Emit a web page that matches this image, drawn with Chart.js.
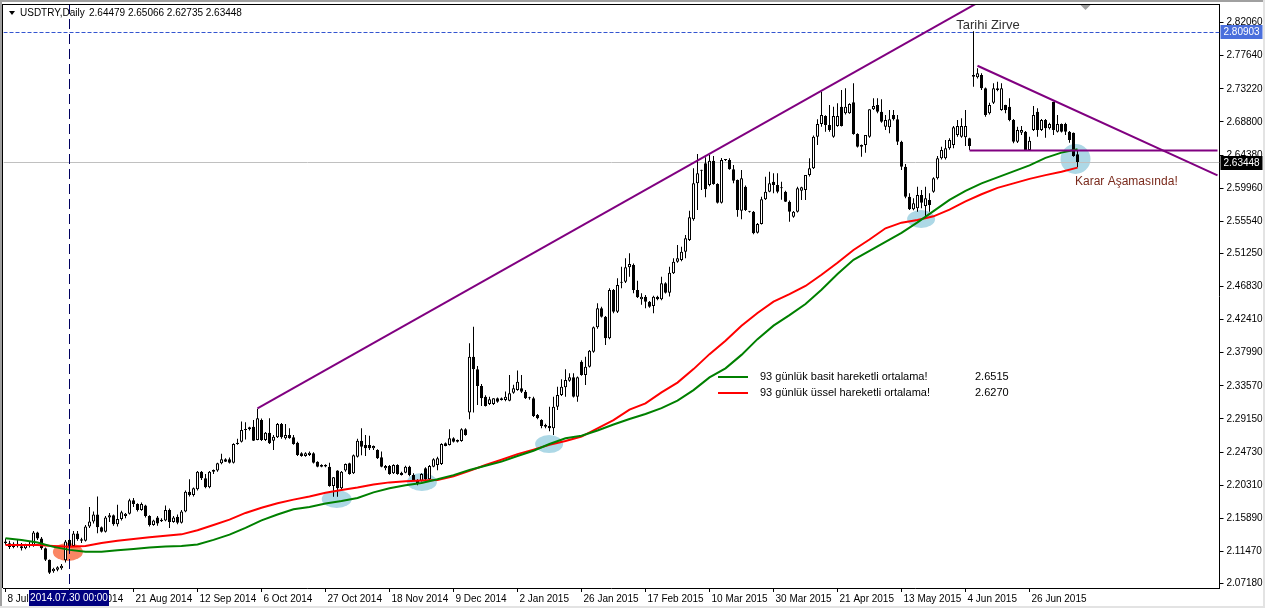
<!DOCTYPE html>
<html>
<head>
<meta charset="utf-8">
<script src="https://cdn.jsdelivr.net/npm/chart.js@4.4.1/dist/chart.umd.min.js"></script>
<style>
  html, body { margin: 0; padding: 0; background: #fff; }
  #wrap { width: 1265px; height: 608px; }
</style>
</head>
<body>
<div id="wrap"><canvas id="usdtry" width="1265" height="608"></canvas></div>
<script>
// USDTRY daily bars, 8 Jul 2014 .. 14 Jul 2015
const opens = [
  2.1280,2.1255,2.1205,2.1250,2.1215,2.1190,2.1235,2.1220,2.1400,2.1320,
  2.1190,2.1035,2.0880,2.0900,2.0920,2.1030,2.1300,2.1220,2.1385,2.1310,
  2.1290,2.1480,2.1545,2.1640,2.1470,2.1410,2.1600,2.1630,2.1510,2.1580,
  2.1620,2.1650,2.1830,2.1780,2.1700,2.1760,2.1620,2.1500,2.1600,2.1550,
  2.1560,2.1700,2.1540,2.1610,2.1530,2.1680,2.1944,2.1900,2.1975,2.2210,
  2.2122,2.2002,2.2211,2.2225,2.2322,2.2376,2.2376,2.2331,2.2580,2.2611,
  2.2767,2.2776,2.2812,2.2634,2.2901,2.2634,2.2732,2.2625,2.2669,2.2847,
  2.2656,2.2700,2.2669,2.2598,2.2456,2.2420,2.2433,2.2456,2.2344,2.2300,
  2.2300,2.2278,2.2020,2.2225,2.1988,2.2225,2.2322,2.2190,2.2411,2.2625,
  2.2567,2.2567,2.2522,2.2500,2.2402,2.2255,2.2287,2.2189,2.2300,2.2198,
  2.2198,2.2278,2.2167,2.2100,2.2091,2.2255,2.2109,2.2278,2.2300,2.2313,
  2.2589,2.2567,2.2656,2.2611,2.2620,2.2776,2.3000,2.3746,2.3577,2.3355,
  2.3212,2.3114,2.3114,2.3190,2.3190,2.3168,2.3159,2.3266,2.3301,2.3323,
  2.3279,2.3200,2.3190,2.2967,2.2901,2.2834,2.2821,2.2790,2.3079,2.3235,
  2.3337,2.3426,2.3470,2.3212,2.3680,2.3502,2.3613,2.3813,2.4138,2.4392,
  2.4280,2.3991,2.4636,2.4347,2.4734,2.4747,2.4939,2.4970,2.4636,2.4512,
  2.4547,2.4480,2.4423,2.4547,2.4512,2.4725,2.4601,2.4859,2.5014,2.5037,
  2.5148,2.5304,2.5580,2.6060,2.6238,2.6327,2.6038,2.6363,2.6051,2.5802,
  2.6372,2.6372,2.6247,2.6105,2.5695,2.6016,2.5682,2.5682,2.5402,2.5518,
  2.5847,2.5949,2.6082,2.6038,2.5994,2.5949,2.5816,2.5615,2.5682,2.5962,
  2.5971,2.6171,2.6260,2.6683,2.6852,2.6959,2.6839,2.6683,2.6826,2.7084,
  2.6995,2.6995,2.7142,2.6719,2.6572,2.6572,2.6683,2.7048,2.7106,2.7017,
  2.6817,2.6808,2.6972,2.6915,2.6616,2.6283,2.5882,2.5713,2.5726,2.5904,
  2.5758,2.5838,2.5949,2.6127,2.6394,2.6394,2.6528,2.6572,2.6705,2.6683,
  2.6674,2.6661,2.7506,2.7475,2.7506,2.7328,2.6995,2.7137,2.7328,2.7039,
  2.7106,2.7084,2.6906,2.6616,2.6737,2.6750,2.6505,2.6772,2.7017,2.6772,
  2.6906,2.6795,2.7150,2.6750,2.6852,2.6852,2.6750,2.6737,2.64479
];
const highs = [
  2.1320,2.1290,2.1270,2.1300,2.1260,2.1250,2.1280,2.1420,2.1410,2.1340,
  2.1200,2.1040,2.0930,2.0950,2.0980,2.1300,2.1330,2.1420,2.1420,2.1330,
  2.1500,2.1740,2.1680,2.1880,2.1480,2.1620,2.1660,2.1640,2.1770,2.1690,
  2.1660,2.1850,2.1860,2.1790,2.1800,2.1770,2.1630,2.1570,2.1620,2.1590,
  2.1760,2.1720,2.1620,2.1640,2.1700,2.1960,2.2110,2.2000,2.2220,2.2220,
  2.2180,2.2220,2.2240,2.2330,2.2450,2.2390,2.2400,2.2590,2.2650,2.2880,
  2.2870,2.2810,2.2900,2.3050,2.2920,2.2740,2.2923,2.2700,2.2860,2.2860,
  2.2847,2.2790,2.2700,2.2610,2.2470,2.2470,2.2480,2.2470,2.2350,2.2310,
  2.2310,2.2330,2.2140,2.2230,2.2220,2.2320,2.2330,2.2440,2.2650,2.2790,
  2.2700,2.2690,2.2560,2.2510,2.2480,2.2300,2.2300,2.2310,2.2310,2.2210,
  2.2290,2.2290,2.2190,2.2110,2.2190,2.2270,2.2300,2.2390,2.2410,2.2590,
  2.2600,2.2776,2.2670,2.2640,2.2790,2.2790,2.3925,2.4147,2.3620,2.3380,
  2.3230,2.3212,2.3190,2.3200,2.3200,2.3280,2.3500,2.3370,2.3560,2.3500,
  2.3300,2.3210,2.3212,2.2980,2.2910,2.2850,2.3079,2.3212,2.3346,2.3444,
  2.3577,2.3524,2.3524,2.3480,2.3700,2.3746,2.3835,2.4150,2.4458,2.4414,
  2.4290,2.4658,2.4650,2.4792,2.4948,2.5059,2.5126,2.4990,2.4761,2.4592,
  2.4570,2.4490,2.4560,2.4560,2.4814,2.4740,2.4948,2.5059,2.5237,2.5215,
  2.5370,2.5695,2.6260,2.6452,2.6240,2.6407,2.6438,2.6425,2.6060,2.6400,
  2.6380,2.6394,2.6305,2.6110,2.6238,2.6030,2.5690,2.5690,2.5530,2.5882,
  2.6149,2.6216,2.6194,2.6194,2.6082,2.5960,2.5830,2.5690,2.6016,2.6016,
  2.6171,2.6394,2.6700,2.6915,2.7284,2.6970,2.7106,2.7084,2.7128,2.7306,
  2.7329,2.7130,2.7395,2.6730,2.6580,2.6705,2.7050,2.7195,2.7195,2.7182,
  2.6972,2.7039,2.7039,2.6972,2.6630,2.6318,2.5927,2.5860,2.6016,2.5971,
  2.6016,2.5927,2.6140,2.6425,2.6550,2.6639,2.6661,2.6826,2.6906,2.6928,
  2.7039,2.6670,2.80903,2.7595,2.7529,2.7340,2.7137,2.7395,2.7417,2.7395,
  2.7110,2.7195,2.6920,2.6817,2.6826,2.6760,2.6683,2.7093,2.7061,2.6920,
  2.6920,2.6870,2.7150,2.6972,2.6860,2.6870,2.6760,2.6740,2.65066
];
const lows = [
  2.1235,2.1180,2.1190,2.1200,2.1160,2.1175,2.1200,2.1210,2.1300,2.1170,
  2.1020,2.0845,2.0860,2.0880,2.0900,2.1000,2.1180,2.1210,2.1290,2.1260,
  2.1280,2.1460,2.1520,2.1390,2.1400,2.1400,2.1540,2.1490,2.1480,2.1560,
  2.1590,2.1640,2.1740,2.1680,2.1690,2.1600,2.1480,2.1490,2.1490,2.1540,
  2.1550,2.1460,2.1530,2.1510,2.1520,2.1670,2.1880,2.1880,2.1960,2.2100,
  2.1990,2.1990,2.2180,2.2210,2.2310,2.2340,2.2320,2.2320,2.2570,2.2600,
  2.2640,2.2760,2.2620,2.2630,2.2620,2.2620,2.2580,2.2500,2.2660,2.2650,
  2.2640,2.2650,2.2570,2.2420,2.2410,2.2410,2.2420,2.2320,2.2270,2.2270,
  2.2270,2.2010,2.1877,2.1877,2.1980,2.2210,2.2170,2.2180,2.2400,2.2430,
  2.2420,2.2500,2.2500,2.2380,2.2270,2.2230,2.2170,2.2180,2.2170,2.2160,
  2.2190,2.2150,2.2090,2.2030,2.2080,2.2100,2.2100,2.2270,2.2230,2.2300,
  2.2550,2.2560,2.2600,2.2600,2.2610,2.2690,2.2910,2.3000,2.3100,2.3088,
  2.3080,2.3100,2.3100,2.3130,2.3160,2.3150,2.3150,2.3250,2.3290,2.3260,
  2.3180,2.3170,2.2940,2.2910,2.2790,2.2790,2.2750,2.2701,2.3034,2.3220,
  2.3212,2.3410,2.3200,2.3146,2.3490,2.3368,2.3600,2.3800,2.4120,2.4270,
  2.3902,2.3980,2.4325,2.4330,2.4660,2.4730,2.4814,2.4592,2.4530,2.4440,
  2.4392,2.4400,2.4325,2.4500,2.4500,2.4590,2.4550,2.4850,2.5000,2.5020,
  2.5059,2.5290,2.5560,2.5704,2.5971,2.5873,2.6020,2.6040,2.5790,2.5790,
  2.6360,2.6240,2.6060,2.5615,2.5580,2.5690,2.5670,2.5380,2.5390,2.5510,
  2.5838,2.5940,2.5927,2.5927,2.5840,2.5810,2.5549,2.5600,2.5670,2.5838,
  2.5838,2.6150,2.6250,2.6572,2.6817,2.6750,2.6750,2.6670,2.6817,2.6820,
  2.6980,2.6990,2.6710,2.6540,2.6416,2.6470,2.6670,2.7040,2.6995,2.6870,
  2.6772,2.6728,2.6900,2.6572,2.6238,2.5860,2.5704,2.5700,2.5682,2.5726,
  2.5593,2.5682,2.5936,2.6110,2.6380,2.6380,2.6510,2.6528,2.6683,2.6670,
  2.6558,2.6505,2.7351,2.7460,2.7306,2.6950,2.6980,2.7120,2.7290,2.7030,
  2.6995,2.6890,2.6594,2.6600,2.6705,2.6505,2.6495,2.6760,2.6683,2.6760,
  2.6670,2.6780,2.6705,2.6740,2.6740,2.6705,2.6603,2.6416,2.62735
];
const closes = [
  2.1255,2.1205,2.1250,2.1215,2.1190,2.1235,2.1220,2.1400,2.1320,2.1190,
  2.1035,2.0860,2.0915,2.0935,2.0955,2.1280,2.1210,2.1385,2.1310,2.1290,
  2.1480,2.1545,2.1640,2.1470,2.1410,2.1600,2.1630,2.1510,2.1580,2.1670,
  2.1650,2.1830,2.1780,2.1700,2.1780,2.1620,2.1500,2.1560,2.1520,2.1570,
  2.1700,2.1540,2.1600,2.1530,2.1680,2.1944,2.1900,2.1988,2.2210,2.2122,
  2.2002,2.2211,2.2233,2.2322,2.2376,2.2344,2.2331,2.2580,2.2598,2.2767,
  2.2776,2.2803,2.2625,2.2923,2.2634,2.2732,2.2589,2.2678,2.2847,2.2669,
  2.2700,2.2656,2.2580,2.2433,2.2420,2.2456,2.2465,2.2331,2.2278,2.2278,
  2.2280,2.2020,2.2135,2.1988,2.2211,2.2313,2.2180,2.2430,2.2625,2.2545,
  2.2522,2.2522,2.2553,2.2389,2.2278,2.2287,2.2180,2.2300,2.2180,2.2167,
  2.2278,2.2167,2.2100,2.2055,2.2180,2.2109,2.2287,2.2376,2.2389,2.2580,
  2.2553,2.2656,2.2611,2.2633,2.2776,2.2700,2.3746,2.3577,2.3355,2.3190,
  2.3088,2.3177,2.3190,2.3145,2.3168,2.3212,2.3257,2.3323,2.3412,2.3279,
  2.3190,2.3190,2.2954,2.2923,2.2821,2.2812,2.2790,2.3079,2.3235,2.3346,
  2.3435,2.3470,2.3212,2.3470,2.3502,2.3613,2.3826,2.4138,2.4392,2.4280,
  2.3991,2.4636,2.4347,2.4703,2.4747,2.4939,2.4983,2.4636,2.4538,2.4547,
  2.4480,2.4412,2.4547,2.4512,2.4725,2.4601,2.4868,2.5014,2.5059,2.5148,
  2.5326,2.5606,2.6060,2.6194,2.6229,2.5980,2.6363,2.6051,2.5802,2.6372,
  2.6372,2.6247,2.6096,2.5704,2.6127,2.5704,2.5682,2.5393,2.5518,2.5847,
  2.5949,2.6060,2.6038,2.5949,2.5994,2.5816,2.5682,2.5682,2.5994,2.6007,
  2.6171,2.6260,2.6683,2.6852,2.6972,2.6839,2.6772,2.6959,2.6959,2.6826,
  2.7084,2.7119,2.6719,2.6550,2.6550,2.6705,2.7048,2.7093,2.7017,2.6883,
  2.6906,2.6915,2.6915,2.6616,2.6283,2.5882,2.5713,2.5793,2.5904,2.5802,
  2.5860,2.5771,2.6127,2.6394,2.6505,2.6528,2.6639,2.6808,2.6826,2.6826,
  2.6826,2.6558,2.7484,2.7529,2.7328,2.6972,2.7106,2.7328,2.7306,2.7328,
  2.7039,2.6906,2.6616,2.6772,2.6772,2.6505,2.6630,2.6972,2.6772,2.6906,
  2.6795,2.6852,2.6772,2.6852,2.6750,2.6750,2.6639,2.6425,2.63448
];

// 93-period moving averages, read every 4th bar
const maBars = [
  0,4,8,12,16,20,24,28,32,36,40,44,48,52,56,60,64,68,72,76,80,84,88,92,96,100,
  104,108,112,116,120,124,128,132,136,140,144,148,152,156,160,164,168,172,176,180,
  184,188,192,196,200,204,208,212,216,220,224,228,232,236,240,244,248,252,256,260,264,268
];
const smaValues = [
  2.1321,2.1298,2.1265,2.1207,2.1167,2.1143,2.1143,2.1162,2.1180,2.1198,
  2.1212,2.1220,2.1240,2.1300,2.1370,2.1460,2.1560,2.1640,2.1708,2.1740,
  2.1785,2.1820,2.1860,2.1935,2.1990,2.2030,2.2060,2.2109,2.2165,2.2233,
  2.2290,2.2345,2.2420,2.2490,2.2580,2.2656,2.2690,2.2760,2.2840,2.2915,
  2.2981,2.3060,2.3160,2.3300,2.3470,2.3590,2.3770,2.3980,2.4160,2.4300,
  2.4450,2.4640,2.4850,2.5040,2.5160,2.5280,2.5400,2.5540,2.5690,2.5840,
  2.5960,2.6060,2.6140,2.6220,2.6300,2.6400,2.6470,2.6515
];
const emaValues = [
  2.1232,2.1232,2.1232,2.1220,2.1210,2.1220,2.1260,2.1288,2.1312,2.1335,
  2.1355,2.1374,2.1430,2.1500,2.1570,2.1660,2.1730,2.1790,2.1838,2.1880,
  2.1930,2.1966,2.2000,2.2040,2.2068,2.2082,2.2092,2.2100,2.2150,2.2222,
  2.2300,2.2370,2.2445,2.2505,2.2570,2.2620,2.2680,2.2790,2.2900,2.3040,
  2.3123,2.3270,2.3400,2.3580,2.3780,2.3960,2.4160,2.4330,2.4480,2.4580,
  2.4690,2.4840,2.5000,2.5170,2.5310,2.5460,2.5535,2.5570,2.5620,2.5710,
  2.5820,2.5915,2.6000,2.6060,2.6120,2.6170,2.6215,2.6270
];

// time axis labels, one every 16 bars
const xTickLabels = [
  '8 Jul 2014','30 Jul 2014','21 Aug 2014','12 Sep 2014','6 Oct 2014','27 Oct 2014',
  '18 Nov 2014','9 Dec 2014','2 Jan 2015','26 Jan 2015','17 Feb 2015','10 Mar 2015',
  '30 Mar 2015','21 Apr 2015','13 May 2015','4 Jun 2015','26 Jun 2015'
];
const yTickValues = [
  2.82060,2.77640,2.73220,2.68800,2.64380,2.59960,2.55540,2.51250,2.46830,
  2.42410,2.37990,2.33570,2.29150,2.24730,2.20310,2.15890,2.11470,2.07180
];

// hand drawn objects: trend lines (bar index, price)
const riseLineBars = [63, 250];
const riseLineVals = [2.3057, 2.8680];
const fallLineBars = [243, 303];
const fallLineVals = [2.7630, 2.6167];
const flatLineBars = [241, 303];
const flatLineVals = [2.6500, 2.6500];

// marked touches (bar index, price)
const circleBars = [15.6, 82.8, 104.1, 135.9, 228.9, 267.5];
const circleVals = [2.1139, 2.1846, 2.2073, 2.2580, 2.5584, 2.6385];

const bidPrice = 2.63448;
const highPrice = 2.80903;
const markerBar = 16;
const markerLabel = '2014.07.30 00:00';
const shiftBar = 270;

const slotCount = 304;
const slots = [];
for (let i = 0; i < slotCount; i++) slots.push(i);

const wicks = lows.map((l, i) => [l, highs[i]]);
const bodies = opens.map((o, i) => [o, closes[i]]);
const bodyFill = opens.map((o, i) => closes[i] > o ? '#ffffff' : '#000000');
const toPoints = (xs, ys) => xs.map((x, i) => ({x: x, y: ys[i]}));

Chart.defaults.font.family = "'Liberation Sans', Arial, sans-serif";
Chart.defaults.font.size = 10;
Chart.defaults.color = '#000000';

const FONT = "'Liberation Sans', Arial, sans-serif";
const circleStyle = [
  {c: '#fa8664', w: 30, h: 18},
  {c: '#add8e6', w: 30, h: 18},
  {c: '#add8e6', w: 30, h: 18},
  {c: '#add8e6', w: 28, h: 18},
  {c: '#add8e6', w: 28, h: 18},
  {c: '#add8e6', w: 30, h: 30}
];

const mt4Extras = {
  id: 'mt4Extras',
  beforeDraw(chart) {
    const ctx = chart.ctx;
    ctx.save();
    ctx.fillStyle = '#ffffff';
    ctx.fillRect(0, 0, chart.width, chart.height);
    ctx.restore();
  },
  beforeDatasetsDraw(chart) {
    const {ctx, chartArea: a, scales: {x, y}} = chart;
    ctx.save();
    ctx.beginPath();
    ctx.rect(a.left, a.top, a.right - a.left, a.bottom - a.top);
    ctx.clip();
    circleBars.forEach((b, i) => {
      const s = circleStyle[i];
      ctx.fillStyle = s.c;
      ctx.beginPath();
      ctx.ellipse(x.getPixelForValue(b), y.getPixelForValue(circleVals[i]), s.w / 2, s.h / 2, 0, 0, Math.PI * 2);
      ctx.fill();
    });
    // bid line
    const yb = Math.round(y.getPixelForValue(bidPrice)) + 0.5;
    ctx.strokeStyle = '#c0c0c0';
    ctx.lineWidth = 1;
    ctx.beginPath();
    ctx.moveTo(a.left, yb);
    ctx.lineTo(a.right, yb);
    ctx.stroke();
    // all time high line
    const yh = Math.round(y.getPixelForValue(highPrice)) + 1.5;
    ctx.strokeStyle = '#3355d0';
    ctx.setLineDash([4, 2]);
    ctx.beginPath();
    ctx.moveTo(a.left, yh);
    ctx.lineTo(a.right, yh);
    ctx.stroke();
    ctx.restore();
  },
  afterDatasetsDraw(chart) {
    const {ctx, chartArea: a, scales: {x}} = chart;
    ctx.save();
    const xm = Math.floor(x.getPixelForValue(markerBar)) + 0.5;
    ctx.strokeStyle = '#000060';
    ctx.lineWidth = 1;
    ctx.setLineDash([10, 5]);
    ctx.beginPath();
    ctx.moveTo(xm, a.top);
    ctx.lineTo(xm, a.bottom);
    ctx.stroke();
    ctx.restore();
  },
  afterDraw(chart) {
    const {ctx, chartArea: a, scales: {x, y}} = chart;
    ctx.save();
    // window frame
    ctx.fillStyle = '#a0a0a0';
    ctx.fillRect(0, 0, chart.width, 2);
    ctx.fillRect(0, 0, 2, chart.height);
    ctx.fillStyle = '#e3e3e3';
    ctx.fillRect(chart.width - 2, 0, 2, chart.height);
    ctx.fillRect(0, chart.height - 2, chart.width, 2);
    // chart frame, left and top
    ctx.fillStyle = '#000000';
    ctx.fillRect(Math.floor(a.left) - 1, Math.floor(a.top), 1, a.bottom - a.top);
    ctx.fillRect(Math.floor(a.left) - 1, Math.floor(a.top), a.right - a.left + 2, 1);

    // chart shift marker
    const xs = x.getPixelForValue(shiftBar);
    ctx.fillStyle = '#a0a0a0';
    ctx.beginPath();
    ctx.moveTo(xs - 5, a.top + 1);
    ctx.lineTo(xs + 5, a.top + 1);
    ctx.lineTo(xs, a.top + 6);
    ctx.closePath();
    ctx.fill();

    // header
    ctx.fillStyle = '#000000';
    ctx.beginPath();
    ctx.moveTo(9, 11);
    ctx.lineTo(15, 11);
    ctx.lineTo(12, 15);
    ctx.closePath();
    ctx.fill();
    ctx.font = '10px ' + FONT;
    ctx.textBaseline = 'middle';
    ctx.textAlign = 'left';
    const last = opens.length - 1;
    ctx.fillText('USDTRY,Daily', 20, 13);
    ctx.fillText([opens[last], highs[last], lows[last], closes[last]].map(v => v.toFixed(5)).join(' '), 89, 13);

    // price labels on the axis
    const box = (val, bg) => {
      const py = Math.round(y.getPixelForValue(val)) + 1;
      ctx.fillStyle = bg;
      ctx.fillRect(a.right + 1, py - 7, 42, 14);
      ctx.fillStyle = '#ffffff';
      ctx.font = '10px ' + FONT;
      ctx.textAlign = 'left';
      ctx.fillText(val.toFixed(5), a.right + 4, py + 0.5);
    };
    box(highPrice, '#4a6fdc');
    box(bidPrice, '#000000');

    // vertical line date label
    const xm = x.getPixelForValue(markerBar);
    ctx.fillStyle = '#000080';
    ctx.fillRect(Math.round(xm) - 41, a.bottom + 2, 80, 16);
    ctx.fillStyle = '#ffffff';
    ctx.textAlign = 'center';
    ctx.fillText(markerLabel, Math.round(xm) - 1, a.bottom + 10);

    // text objects
    ctx.font = '13px ' + FONT;
    ctx.fillStyle = '#303030';
    ctx.textAlign = 'center';
    ctx.fillText('Tarihi Zirve', 988, 25);
    ctx.font = '12px ' + FONT;
    ctx.fillStyle = '#7a2a1c';
    ctx.textAlign = 'left';
    ctx.fillText('Karar Aşamasında!', 1075, 182);

    // indicator legend
    const rows = [
      {color: '#008000', text: '93 günlük basit hareketli ortalama!', val: smaValues[smaValues.length - 1]},
      {color: '#ff0000', text: '93 günlük üssel hareketli ortalama!', val: emaValues[emaValues.length - 1]}
    ];
    ctx.font = '11px ' + FONT;
    rows.forEach((r, i) => {
      const ly = 377 + i * 16;
      ctx.strokeStyle = r.color;
      ctx.lineWidth = 2;
      ctx.beginPath();
      ctx.moveTo(718, ly);
      ctx.lineTo(748, ly);
      ctx.stroke();
      ctx.fillStyle = '#000000';
      ctx.fillText(r.text, 760, ly);
      ctx.fillText(r.val.toFixed(4), 975, ly);
    });
    ctx.restore();
  }
};

new Chart(document.getElementById('usdtry').getContext('2d'), {
  type: 'bar',
  data: {
    labels: slots,
    datasets: [
      {
        type: 'line',
        label: 'rise',
        data: toPoints(riseLineBars, riseLineVals),
        borderColor: '#800080',
        borderWidth: 2,
        pointRadius: 0,
        order: 0
      },
      {
        type: 'line',
        label: 'fall',
        data: toPoints(fallLineBars, fallLineVals),
        borderColor: '#800080',
        borderWidth: 2,
        pointRadius: 0,
        order: 0
      },
      {
        type: 'line',
        label: 'flat',
        data: toPoints(flatLineBars, flatLineVals),
        borderColor: '#800080',
        borderWidth: 2,
        pointRadius: 0,
        order: 0
      },
      {
        type: 'line',
        label: 'SMA 93',
        data: toPoints(maBars, smaValues),
        borderColor: '#008000',
        borderWidth: 2,
        pointRadius: 0,
        tension: 0,
        order: 1
      },
      {
        type: 'line',
        label: 'EMA 93',
        data: toPoints(maBars, emaValues),
        borderColor: '#ff0000',
        borderWidth: 2,
        pointRadius: 0,
        tension: 0,
        order: 2
      },
      {
        label: 'body',
        data: bodies,
        backgroundColor: bodyFill,
        borderColor: '#000000',
        borderWidth: 1,
        borderSkipped: false,
        barThickness: 3,
        minBarLength: 1,
        inflateAmount: 0,
        grouped: false,
        order: 3
      },
      {
        label: 'wick',
        data: wicks,
        backgroundColor: '#000000',
        borderWidth: 0,
        barThickness: 1,
        minBarLength: 1,
        inflateAmount: 0,
        grouped: false,
        order: 4
      }
    ]
  },
  options: {
    responsive: false,
    animation: false,
    events: [],
    layout: { padding: { left: 3.5, top: 4, right: 0, bottom: 0 } },
    plugins: { legend: { display: false }, tooltip: { enabled: false } },
    scales: {
      x: {
        type: 'category',
        offset: true,
        grid: { display: true, drawOnChartArea: false, offset: false, tickLength: 4, color: '#000000' },
        border: { display: true, color: '#000000' },
        ticks: {
          autoSkip: false,
          maxRotation: 0,
          minRotation: 0,
          align: 'start',
          labelOffset: 2,
          padding: 1,
          callback: (value) => xTickLabels[value / 16]
        },
        afterBuildTicks: (scale) => {
          scale.ticks = scale.ticks.filter(t => t.value % 16 === 0 && t.value / 16 < xTickLabels.length);
        },
        afterFit: (scale) => {
          scale.height = 20;
          scale.paddingLeft = 0;
          scale.paddingRight = 0;
        }
      },
      y: {
        position: 'right',
        min: 2.06580,
        max: 2.84543,
        grid: { display: true, drawOnChartArea: false, tickLength: 4, color: '#000000' },
        border: { display: true, color: '#000000' },
        ticks: {
          padding: 3,
          callback: (value) => Number(value).toFixed(5)
        },
        afterBuildTicks: (scale) => {
          scale.ticks = yTickValues.map(v => ({value: v}));
        },
        afterFit: (scale) => {
          scale.width = 45.5;
          scale.paddingTop = 0;
          scale.paddingBottom = 0;
        }
      }
    }
  },
  plugins: [mt4Extras]
});
</script>
</body>
</html>
